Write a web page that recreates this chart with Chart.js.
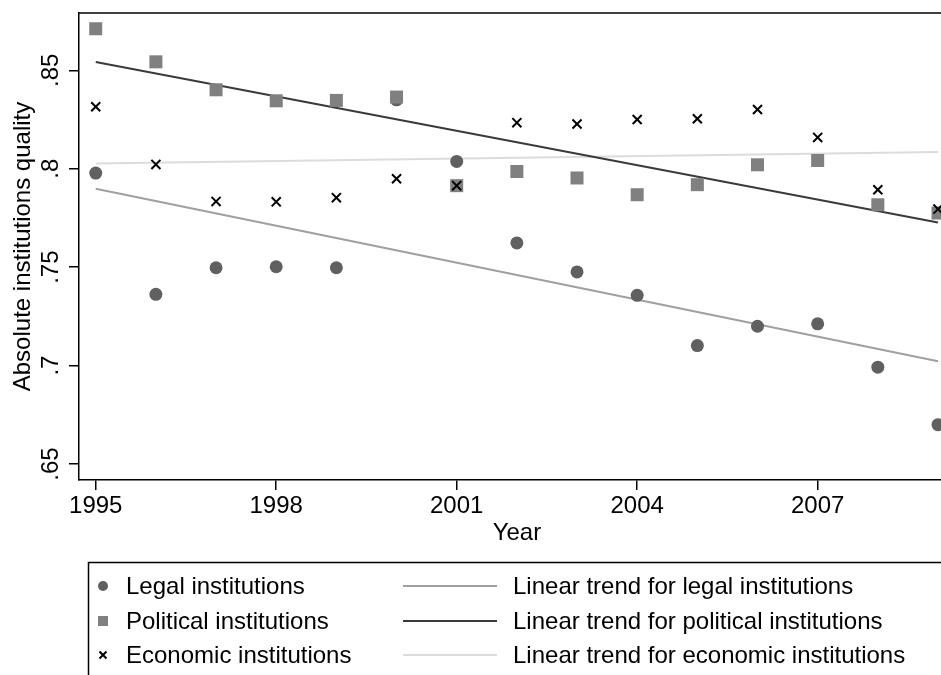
<!DOCTYPE html>
<html>
<head>
<meta charset="utf-8">
<script src="https://cdn.jsdelivr.net/npm/chart.js@4.4.1/dist/chart.umd.min.js"></script>
<style>
    html, body { margin: 0; padding: 0; background: #fff; overflow: hidden; }
    #chart { display: block; width: 941px; height: 675px; }
</style>
</head>
<body>
<canvas id="chart" width="941" height="675"></canvas>
<script>
var years = [1995, 1996, 1997, 1998, 1999, 2000, 2001, 2002, 2003, 2004, 2005, 2006, 2007, 2008, 2009];
var legal = [0.7978, 0.7362, 0.7497, 0.7502, 0.7497, 0.835, 0.8037, 0.7623, 0.7476, 0.7357, 0.7102, 0.7200, 0.7212, 0.6992, 0.6700];
var political = [0.8711, 0.8543, 0.8401, 0.8345, 0.8347, 0.8364, 0.7914, 0.7986, 0.7953, 0.7868, 0.7919, 0.8020, 0.8042, 0.7817, 0.7775];
var economic = [0.8315, 0.8022, 0.7834, 0.7832, 0.7853, 0.7949, 0.7914, 0.8234, 0.8227, 0.8250, 0.8254, 0.8301, 0.8159, 0.7893, 0.7795];

var trendYears = [1995, 2009];
var trendLegal = [0.7898, 0.7022];
var trendPolitical = [0.8542, 0.7727];
var trendEconomic = [0.8027, 0.8085];

var xTicks = [1995, 1998, 2001, 2004, 2007];
var yTicks = [0.65, 0.70, 0.75, 0.80, 0.85];

var FONT = "'Liberation Sans', Arial, sans-serif";
var X_FULL_MAX = 2009.28;  // the plot region runs on past the picture's right edge

function pairs(xs, ys) {
    return xs.map(function (x, i) { return {x: x, y: ys[i]}; });
}

function fmtY(v) {
    // Stata style: .85, .8, .7
    return String(parseFloat(v.toFixed(2))).replace(/^0/, '');
}

// Frame top line, rotated y tick labels, x title and the boxed legend
var extras = {
    id: 'extras',
    afterDraw: function (chart) {
        var ctx = chart.ctx;
        var area = chart.chartArea;
        var x = chart.scales.x;
        var y = chart.scales.y;

        ctx.save();
        ctx.strokeStyle = '#000';
        ctx.lineWidth = 1.5;
        ctx.beginPath();
        ctx.moveTo(area.left, area.top);
        ctx.lineTo(area.right + 20, area.top);
        ctx.stroke();

        ctx.fillStyle = '#000';
        ctx.font = '24px ' + FONT;
        ctx.textAlign = 'center';
        ctx.textBaseline = 'alphabetic';
        y.ticks.forEach(function (t) {
            ctx.save();
            ctx.translate(y.right - 21, y.getPixelForValue(t.value));
            ctx.rotate(-Math.PI / 2);
            ctx.fillText(fmtY(t.value), 0, 0);
            ctx.restore();
        });

        // x title centred on the whole (partly hidden) plot region
        ctx.textBaseline = 'middle';
        ctx.fillText('Year', (area.left + x.getPixelForValue(X_FULL_MAX)) / 2, 533);

        // legend box, right and bottom edges fall outside the canvas
        ctx.lineWidth = 1.5;
        ctx.strokeRect(88.5, 562.5, 900, 200);

        var rows = [586, 621, 655];
        var ds = chart.data.datasets;
        ctx.textAlign = 'left';
        for (var i = 0; i < 3; i++) {
            var p = ds[i];
            var l = ds[i + 3];
            ctx.fillStyle = p.backgroundColor;
            ctx.strokeStyle = p.borderColor;
            ctx.beginPath();
            if (p.pointStyle === 'circle') {
                ctx.arc(103, rows[i], 5, 0, Math.PI * 2);
                ctx.fill();
            } else if (p.pointStyle === 'rect') {
                ctx.fillRect(98, rows[i] - 5, 10, 10);
            } else {
                ctx.lineWidth = 2;
                ctx.moveTo(99.5, rows[i] - 3.5); ctx.lineTo(106.5, rows[i] + 3.5);
                ctx.moveTo(106.5, rows[i] - 3.5); ctx.lineTo(99.5, rows[i] + 3.5);
                ctx.stroke();
            }
            ctx.fillStyle = '#000';
            ctx.fillText(p.label, 126, rows[i] + 1);

            ctx.strokeStyle = l.borderColor;
            ctx.lineWidth = l.borderWidth;
            ctx.beginPath();
            ctx.moveTo(403, rows[i]);
            ctx.lineTo(497, rows[i]);
            ctx.stroke();
            ctx.fillStyle = '#000';
            ctx.fillText(l.label, 513, rows[i] + 1);
        }
        ctx.restore();
    }
};

var canvas = document.getElementById('chart');
new Chart(canvas, {
    type: 'scatter',
    data: {
        datasets: [
            {
                label: 'Legal institutions',
                data: pairs(years, legal),
                pointStyle: 'circle',
                pointRadius: 6.5,
                backgroundColor: '#606060',
                borderColor: '#606060',
                borderWidth: 0,
                order: 3
            },
            {
                label: 'Political institutions',
                data: pairs(years, political),
                pointStyle: 'rect',
                pointRadius: 9.2,
                backgroundColor: '#808080',
                borderColor: '#808080',
                borderWidth: 0,
                order: 2
            },
            {
                label: 'Economic institutions',
                data: pairs(years, economic),
                pointStyle: 'crossRot',
                pointRadius: 6.4,
                backgroundColor: '#000',
                borderColor: '#000',
                borderWidth: 2,
                order: 1
            },
            {
                label: 'Linear trend for legal institutions',
                data: pairs(trendYears, trendLegal),
                showLine: true,
                pointRadius: 0,
                borderColor: '#a0a0a0',
                borderWidth: 2,
                order: 4
            },
            {
                label: 'Linear trend for political institutions',
                data: pairs(trendYears, trendPolitical),
                showLine: true,
                pointRadius: 0,
                borderColor: '#3a3a3a',
                borderWidth: 2,
                order: 4
            },
            {
                label: 'Linear trend for economic institutions',
                data: pairs(trendYears, trendEconomic),
                showLine: true,
                pointRadius: 0,
                borderColor: '#dcdcdc',
                borderWidth: 2,
                order: 4
            }
        ]
    },
    options: {
        responsive: false,
        animation: false,
        devicePixelRatio: 1,
        clip: false,
        layout: { autoPadding: false, padding: { left: 0, top: 13, right: 0, bottom: 115 } },
        plugins: {
            legend: { display: false },
            tooltip: { enabled: false }
        },
        scales: {
            x: {
                type: 'linear',
                min: 1994.722,
                max: 2009.05,
                afterBuildTicks: function (scale) {
                    scale.ticks = xTicks.map(function (v) { return {value: v}; });
                },
                afterFit: function (scale) {
                    scale.height = 80;
                    scale.paddingLeft = 0;
                    scale.paddingRight = 0;
                },
                ticks: {
                    color: '#000',
                    padding: 2,
                    maxRotation: 0,
                    font: { family: FONT, size: 24 },
                    callback: function (v) { return String(v); }
                },
                grid: { drawOnChartArea: false, tickLength: 10, color: '#000', lineWidth: 1.5 },
                border: { color: '#000', width: 1.5 },
                title: { display: false, text: 'Year' }
            },
            y: {
                type: 'linear',
                min: 0.6419,
                max: 0.8791,
                afterBuildTicks: function (scale) {
                    scale.ticks = yTicks.map(function (v) { return {value: v}; });
                },
                afterFit: function (scale) {
                    scale.width = 79;
                    scale.paddingTop = 0;
                    scale.paddingBottom = 0;
                },
                ticks: {
                    color: 'rgba(0,0,0,0)',
                    font: { family: FONT, size: 24 },
                    callback: function (v) { return fmtY(v); }
                },
                grid: { drawOnChartArea: false, tickLength: 10, color: '#000', lineWidth: 1.5 },
                border: { color: '#000', width: 1.5 },
                title: {
                    display: true,
                    text: 'Absolute institutions quality',
                    color: '#000',
                    font: { family: FONT, size: 24 },
                    padding: { top: 9, bottom: 9 }
                }
            }
        }
    },
    plugins: [extras]
});
</script>
</body>
</html>
